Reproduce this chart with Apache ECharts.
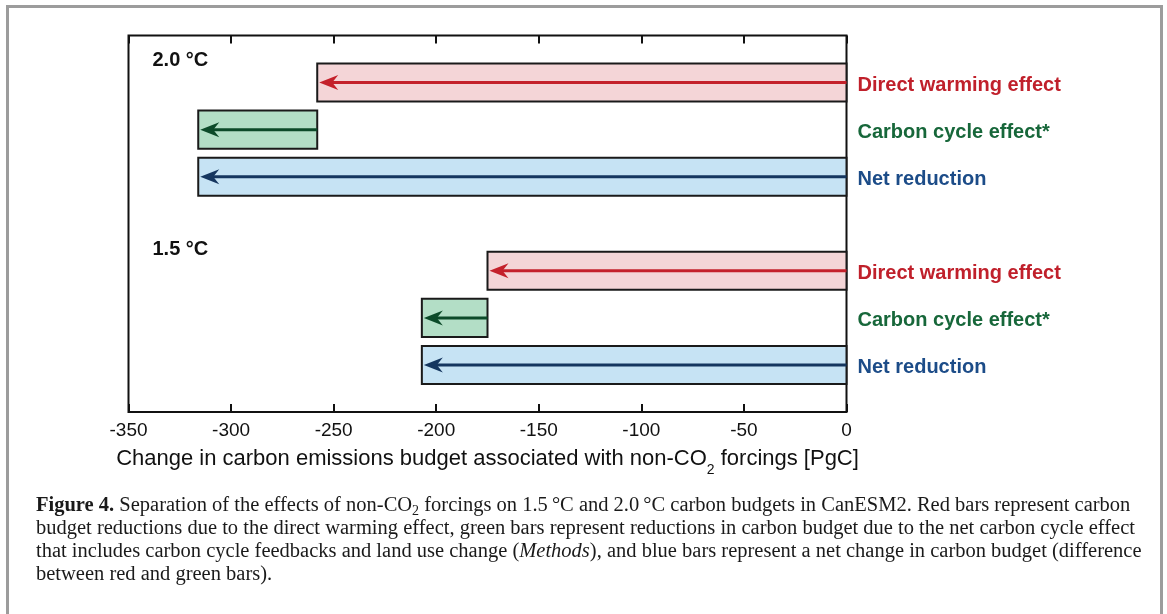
<!DOCTYPE html>
<html>
<head>
<meta charset="utf-8">
<script src="https://cdn.jsdelivr.net/npm/echarts@6/dist/echarts.min.js"></script>
<style>
  html, body { margin: 0; padding: 0; background: #ffffff; }
  #chart { width: 1167px; height: 614px; }
</style>
</head>
<body>
<div id="chart"></div>
<script>
// Warming targets, one block of three bars each
const scenarios = ['2.0 °C', '1.5 °C'];
// Effect names drawn to the right of each bar row
const effectNames = ['Direct warming effect', 'Carbon cycle effect*', 'Net reduction'];
// Change in carbon budget [PgC]
const directWarming = [-258, -175];
const carbonCycle = [-58, -32];
const netReduction = [-316, -207];
// x-axis ticks
const xTicks = [-350, -300, -250, -200, -150, -100, -50, 0];

const captionLines = [
  '{b|Figure 4.} Separation of the effects of non-CO{s|2} forcings on 1.5\u2009°C and 2.0\u2009°C carbon budgets in CanESM2. Red bars represent carbon',
  'budget reductions due to the direct warming effect, green bars represent reductions in carbon budget due to the net carbon cycle effect',
  'that includes carbon cycle feedbacks and land use change ({i|Methods}), and blue bars represent a net change in carbon budget (difference',
  'between red and green bars).'
];

const FONT = "'Liberation Sans', Arial, Helvetica, sans-serif";
const SERIF = "'Liberation Serif', 'Times New Roman', serif";
const CAP = 20.5;

const fills = ['#f4d5d7', '#b3dec6', '#c6e3f4'];
const arrows = ['#c4212b', '#0c4a29', '#15365f'];
const labelColors = ['#c0202b', '#17673a', '#1c4c88'];

// bar rows: [start, end, row, kind]
const barData = [];
scenarios.forEach((s, i) => {
  const base = i * 4 + 1;
  barData.push([0, directWarming[i], base, 0]);
  barData.push([directWarming[i], directWarming[i] + carbonCycle[i], base + 1, 1]);
  barData.push([0, netReduction[i], base + 2, 2]);
});
const scenarioData = scenarios.map((s, i) => [xTicks[0], i * 4 + 0.54]);

function renderBar(params, api) {
  const x0 = api.value(0), x1 = api.value(1), row = api.value(2), kind = api.value(3);
  const p0 = api.coord([x0, row]);
  const p1 = api.coord([x1, row]);
  const h = api.size([0, 1])[1] * 0.81;
  const y = p0[1];
  const left = Math.min(p0[0], p1[0]);
  const right = Math.max(p0[0], p1[0]);
  const tip = left + 2;
  const zeroX = api.coord([0, row])[0];
  return {
    type: 'group',
    children: [
      { type: 'rect', shape: { x: left, y: y - h / 2, width: right - left, height: h },
        style: { fill: fills[kind], stroke: '#1a1a1a', lineWidth: 2 } },
      { type: 'line', shape: { x1: right, y1: y, x2: tip + 10, y2: y },
        style: { stroke: arrows[kind], lineWidth: 3 } },
      { type: 'polygon', shape: { points: [[tip, y], [tip + 19, y - 7.5], [tip + 13, y], [tip + 19, y + 7.5]] },
        style: { fill: arrows[kind] } },
      { type: 'text', x: zeroX + 11, y: y + 3,
        style: { text: effectNames[kind], fill: labelColors[kind], font: 'bold 20px ' + FONT,
                 align: 'left', verticalAlign: 'middle' } }
    ]
  };
}

function renderScenario(params, api) {
  const p = api.coord([api.value(0), api.value(1)]);
  return {
    type: 'text', x: p[0] + 24, y: p[1],
    style: { text: scenarios[params.dataIndex], fill: '#111', font: 'bold 20px ' + FONT,
             align: 'left', verticalAlign: 'middle' }
  };
}

const chart = echarts.init(document.getElementById('chart'), null, { renderer: 'canvas' });

const tickCommon = { show: true, inside: true, length: 8, lineStyle: { color: '#111', width: 2 } };

chart.setOption({
  animation: false,
  backgroundColor: '#ffffff',
  grid: { left: 128.5, right: 320.5, top: 35.5, bottom: 202, show: true,
          borderColor: '#111', borderWidth: 2, backgroundColor: 'transparent' },
  xAxis: [
    {
      type: 'value', min: xTicks[0], max: xTicks[xTicks.length - 1], interval: 50,
      position: 'bottom',
      axisLine: { show: false, onZero: false },
      axisTick: tickCommon,
      splitLine: { show: false },
      axisLabel: { color: '#111', fontSize: 19, fontFamily: FONT, margin: 9 },
      name: '{a|Change in carbon emissions budget associated with non-CO}{s|2}{a| forcings [PgC]}',
      nameLocation: 'middle', nameGap: 36,
      nameTextStyle: {
        rich: {
          a: { fontSize: 22, fontFamily: FONT, color: '#111', verticalAlign: 'top', lineHeight: 24 },
          s: { fontSize: 14, fontFamily: FONT, color: '#111', verticalAlign: 'top', padding: [15, 0, 0, 0], lineHeight: 24 }
        }
      }
    },
    {
      type: 'value', min: xTicks[0], max: xTicks[xTicks.length - 1], interval: 50,
      position: 'top',
      axisLine: { show: false, onZero: false },
      axisTick: tickCommon,
      splitLine: { show: false },
      axisLabel: { show: false }
    }
  ],
  yAxis: {
    type: 'value', min: 0, max: 8, inverse: true, show: false
  },
  graphic: [
    { type: 'rect', shape: { x: 7.5, y: 6.5, width: 1154, height: 640 },
      style: { fill: 'none', stroke: '#9c9c9c', lineWidth: 3 }, silent: true },
    ...captionLines.map((t, i) => ({
      type: 'text', left: 36, top: 495 + i * 23,
      style: {
        text: t, fill: '#1a1a1a', font: CAP + 'px ' + SERIF,
        rich: {
          b: { fontFamily: SERIF, fontSize: CAP, fontWeight: 'bold', fill: '#1a1a1a' },
          i: { fontFamily: SERIF, fontSize: CAP, fontStyle: 'italic', fill: '#1a1a1a' },
          s: { fontFamily: SERIF, fontSize: 14, fill: '#1a1a1a', padding: [11, 0, 0, 0] }
        }
      }
    }))
  ],
  series: [
    { type: 'custom', renderItem: renderBar, data: barData, clip: false,
      xAxisIndex: 0, yAxisIndex: 0, encode: { x: [0, 1], y: 2 } },
    { type: 'custom', renderItem: renderScenario, data: scenarioData, clip: false,
      xAxisIndex: 0, yAxisIndex: 0, encode: { x: 0, y: 1 } }
  ]
});
</script>
</body>
</html>
